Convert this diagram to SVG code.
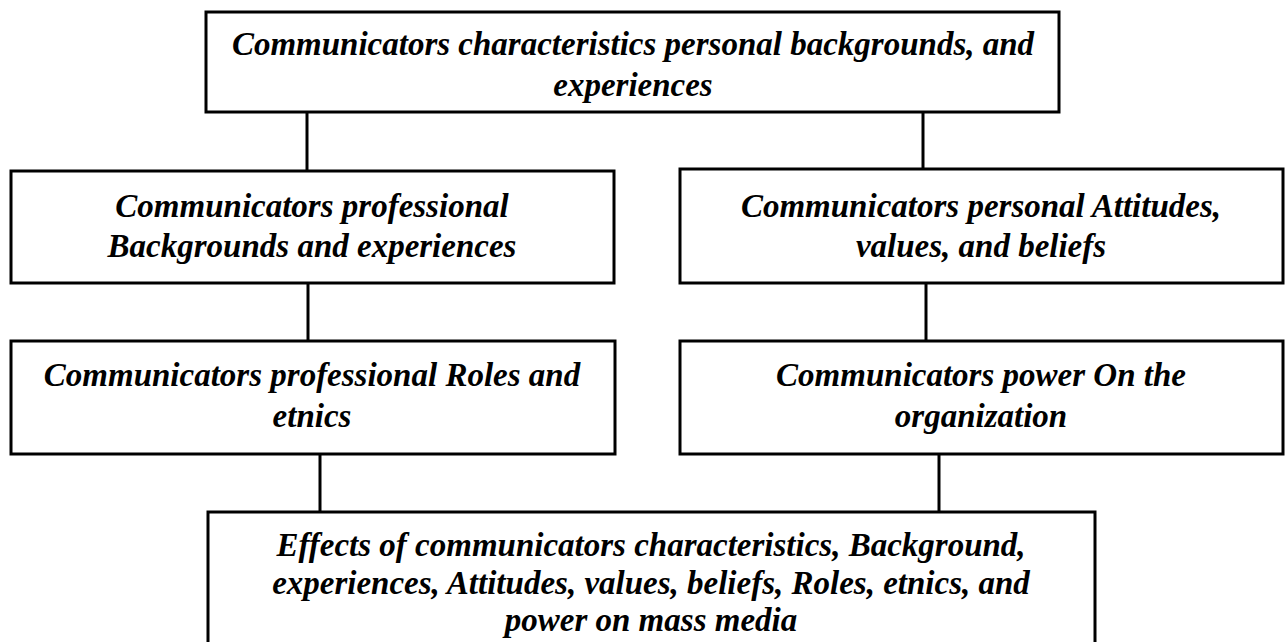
<svg xmlns="http://www.w3.org/2000/svg" width="1286" height="642" viewBox="0 0 1286 642">
<style>
.box{fill:#fff;stroke:#000;stroke-width:3}
.con line{stroke:#000;stroke-width:3}
text{font-family:"Liberation Serif","Times New Roman",serif;font-weight:bold;font-style:italic;font-size:33px;fill:#000;text-anchor:middle}
</style>
<rect width="1286" height="642" fill="#fff"/>
<g class="con" id="connectors">
<line x1="307" y1="112" x2="307" y2="171"/>
<line x1="923" y1="112" x2="923" y2="169"/>
<line x1="308" y1="283" x2="308" y2="341"/>
<line x1="926" y1="283" x2="926" y2="341"/>
<line x1="320" y1="454" x2="320" y2="512"/>
<line x1="939" y1="454" x2="939" y2="512"/>
</g>
<g id="n1">
<rect class="box" x="206" y="12" width="853" height="100"/>
<text x="633" y="55">Communicators characteristics personal backgrounds, and</text>
<text x="633" y="96">experiences</text>
</g>
<g id="n2">
<rect class="box" x="11" y="171" width="603" height="112"/>
<text x="312" y="217">Communicators professional</text>
<text x="312" y="257">Backgrounds and experiences</text>
</g>
<g id="n3">
<rect class="box" x="680" y="169" width="603" height="114"/>
<text x="981" y="217">Communicators personal Attitudes,</text>
<text x="981" y="257">values, and beliefs</text>
</g>
<g id="n4">
<rect class="box" x="11" y="341" width="604" height="113"/>
<text x="312" y="386">Communicators professional Roles and</text>
<text x="312" y="427">etnics</text>
</g>
<g id="n5">
<rect class="box" x="680" y="341" width="603" height="113"/>
<text x="981" y="386">Communicators power On the</text>
<text x="981" y="427">organization</text>
</g>
<g id="n6">
<rect class="box" x="208" y="512" width="887" height="150"/>
<text x="651" y="556">Effects of communicators characteristics, Background,</text>
<text x="651" y="594">experiences, Attitudes, values, beliefs, Roles, etnics, and</text>
<text x="651" y="631">power on mass media</text>
</g>
</svg>
